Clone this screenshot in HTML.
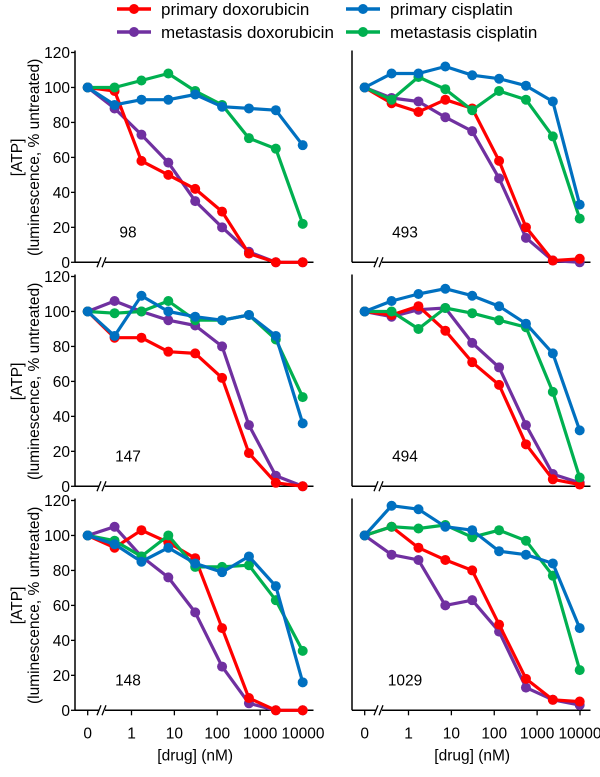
<!DOCTYPE html>
<html><head><meta charset="utf-8">
<style>
html,body{margin:0;padding:0;background:#fff;}
svg{display:block;font-family:"Liberation Sans",sans-serif;}
</style></head>
<body>
<svg id="chart" width="600" height="777" viewBox="0 0 600 777"></svg>
<script>
const seriesNames = ["primary doxorubicin","metastasis doxorubicin","primary cisplatin","metastasis cisplatin"];
const seriesColors = ["#ff0000","#7030a0","#0070c0","#00b050"];
const panelLabels = ["98","493","147","494","148","1029"];
const xTickLabels = ["0","1","10","100","1000","10000"];
const yTickLabels = [0,20,40,60,80,100,120];
const p98_red = [100,98,58,50,42,29,5,0,0];
const p98_purple = [100,88,73,57,35,20,6,0,0];
const p98_blue = [100,90,93,93,96,89,88,87,67];
const p98_green = [100,100,104,108,98,90,71,65,22];
const p493_red = [100,91,86,93,88,58,20,1,2];
const p493_purple = [100,94,92,83,75,48,14,1,0];
const p493_blue = [100,108,108,112,107,105,101,92,33];
const p493_green = [100,93,106,99,87,98,93,72,25];
const p147_red = [100,85,85,77,76,62,19,2,0];
const p147_purple = [100,106,100,95,92,80,35,6,0];
const p147_blue = [100,86,109,100,97,95,98,86,36];
const p147_green = [100,99,100,106,95,95,98,84,51];
const p494_red = [100,98,103,89,71,58,24,4,1];
const p494_purple = [100,97,101,102,82,68,35,7,2];
const p494_blue = [100,106,110,113,109,103,93,76,32];
const p494_green = [100,100,90,102,99,95,91,54,5];
const p148_red = [100,93,103,96,87,47,7,0,0];
const p148_purple = [100,105,88,76,56,25,4,0,0];
const p148_blue = [100,95,85,93,84,79,88,71,16];
const p148_green = [100,97,88,100,82,82,83,63,34];
const p1029_red = [100,105,93,86,80,49,18,6,5];
const p1029_purple = [100,89,86,60,63,45,13,6,3];
const p1029_blue = [100,117,115,105,103,91,89,84,47];
const p1029_green = [100,105,104,106,99,103,97,77,23];

const panelData = [
  [p98_red,p98_purple,p98_blue,p98_green],
  [p493_red,p493_purple,p493_blue,p493_green],
  [p147_red,p147_purple,p147_blue,p147_green],
  [p494_red,p494_purple,p494_blue,p494_green],
  [p148_red,p148_purple,p148_blue,p148_green],
  [p1029_red,p1029_purple,p1029_blue,p1029_green]
];

const NS="http://www.w3.org/2000/svg";
const svg=document.getElementById('chart');
function mk(tag,attrs,parent){const e=document.createElementNS(NS,tag);for(const k in attrs)e.setAttribute(k,attrs[k]);(parent||svg).appendChild(e);return e;}

const legPos=[[117,9],[117,32],[346,9],[346,32]];
for(let s=0;s<4;s++){
  const g=mk('g',{});
  
  
  const [lx,ly]=legPos[s];
  mk('line',{x1:lx,y1:ly,x2:lx+34,y2:ly,stroke:seriesColors[s],'stroke-width':3.5},g);
  mk('circle',{cx:lx+17,cy:ly,r:5,fill:seriesColors[s]},g);
  const t=mk('text',{x:lx+44,y:ly+6,'font-size':17,fill:'#000'},g);
  t.textContent=seriesNames[s];
}

for(let p=0;p<6;p++){
  const col=p%2,row=Math.floor(p/2);
  const ox=col*277, oy=row*224;
  const axX=75+ox, x0=87.7+ox, xLast=302.7+ox, axEnd=313.5+ox;
  const y0=262.3+oy, yScale=(262.3-52.5)/120;
  const xFn=i=>x0+i*(xLast-x0)/8;
  const yFn=v=>y0-v*yScale;
  const g=mk('g',{});
  
  
  const ya=mk('line',{x1:axX,y1:yFn(120)-2,x2:axX,y2:y0,stroke:'#000','stroke-width':1.5},g);
  
  
  const xa=mk('line',{x1:axX,y1:y0,x2:axEnd,y2:y0,stroke:'#000','stroke-width':1.5},g);
  
  
  const bx=102+ox;
  mk('rect',{x:bx-3,y:y0-2,width:6,height:4,fill:'#fff'},g);
  mk('line',{x1:bx-5,y1:y0+5,x2:bx-1,y2:y0-5,stroke:'#000','stroke-width':1.3},g);
  mk('line',{x1:bx,y1:y0+5,x2:bx+4,y2:y0-5,stroke:'#000','stroke-width':1.3},g);
  if(col===0){
    yTickLabels.forEach(v=>{
      mk('line',{x1:axX-4,y1:yFn(v),x2:axX,y2:yFn(v),stroke:'#000','stroke-width':1.3},g);
      const t=mk('text',{x:axX-5,y:yFn(v)+5.5,'font-size':15.5,'text-anchor':'end'},g);
      t.textContent=v;
      
      
    });
    const cy=(yFn(120)+y0)/2;
    const t1=mk('text',{x:0,y:0,'font-size':15.5,'text-anchor':'middle',transform:`translate(22,${cy}) rotate(-90)`},g);
    t1.textContent='[ATP]';
    
    
    const t2=mk('text',{x:0,y:0,'font-size':15.5,'text-anchor':'middle',transform:`translate(39,${cy}) rotate(-90)`},g);
    t2.textContent='(luminescence, % untreated)';
    
    
  }
  if(row===2){
    xTickLabels.forEach((lab,i)=>{
      const tx= i===0 ? x0 : (131.5+ox)+(i-1)*(303-131.5)/4;
      mk('line',{x1:tx,y1:y0,x2:tx,y2:y0+5,stroke:'#000','stroke-width':1.3},g);
      const t=mk('text',{x:tx,y:y0+28,'font-size':15.5,'text-anchor':'middle'},g);
      t.textContent=lab;
      
      
    });
    const xt=mk('text',{x:(x0+xLast)/2,y:y0+50,'font-size':15.5,'text-anchor':'middle'},g);
    xt.textContent='[drug] (nM)';
    
    
  }
  const pl=mk('text',{x:128+ox,y:yFn(17)+5,'font-size':15.5,'text-anchor':'middle'},g);
  pl.textContent=panelLabels[p];
  
  
  [1,0,3,2].forEach(s=>{
    const vals=panelData[p][s];
    const sg=mk('g',{},g);
    
    
    const pts=vals.map((v,i)=>xFn(i).toFixed(1)+','+yFn(v).toFixed(1)).join(' ');
    mk('polyline',{points:pts,fill:'none',stroke:seriesColors[s],'stroke-width':3.2,'stroke-linejoin':'round'},sg);
    vals.forEach((v,i)=>{
      const c=mk('circle',{cx:xFn(i),cy:yFn(v),r:5,fill:seriesColors[s]},sg);
      
      
    });
  });
}
</script>
</body></html>
